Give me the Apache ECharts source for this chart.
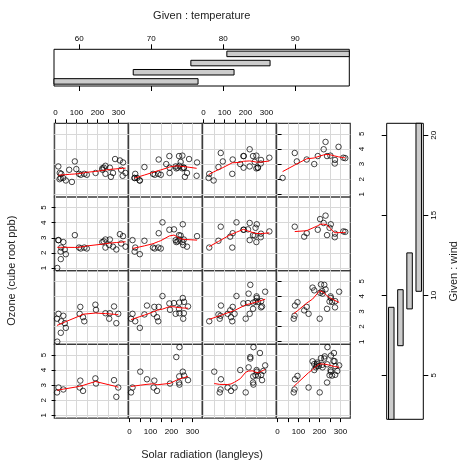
<!DOCTYPE html>
<html><head><meta charset="utf-8">
<script src="https://cdn.jsdelivr.net/npm/echarts@6/dist/echarts.min.js"></script>
<style>html,body{margin:0;padding:0;background:#fff}#c{width:460px;height:465px}</style>
</head><body><div id="c"></div><script>
// complete cases: Ozone (ppb), Solar.R (langleys), Wind (mph), Temp (F)
var ozone = [41,36,12,18,23,19,8,16,11,14, 18,14,34,6,30,11,1,11,4,32, 23,45,115,37,29,71,39,23,21,37,
  20,12,13,135,49,32,64,40,77,97, 97,85,10,27,7,48,35,61,79,63, 16,80,108,20,52,82,50,64,59,39,
  9,16,122,89,110,44,28,65,22,59, 23,31,44,21,9,45,168,73,76,118, 84,85,96,78,73,91,47,32,20,23,
  21,24,44,21,28,9,13,46,18,13, 24,16,13,23,36,7,14,30,14,18, 20];
var solar = [190,118,149,313,299,99,19,256,290,274, 65,334,307,78,322,44,8,320,25,92, 13,252,223,279,127,291,323,148,191,284,
  37,120,137,269,248,236,175,314,276,267, 272,175,264,175,48,260,274,285,187,220, 7,294,223,81,82,213,275,253,254,83,
  24,77,255,229,207,192,273,157,71,51, 115,244,190,259,36,212,238,215,203,225, 237,188,167,197,183,189,95,92,252,220,
  230,259,236,259,238,24,112,237,224,27, 238,201,238,14,139,49,20,193,191,131, 223];
var wind = [7.4,8.0,12.6,11.5,8.6,13.8,20.1,9.7,9.2,10.9, 13.2,11.5,12.0,18.4,11.5,9.7,9.7,16.6,9.7,12.0, 12.0,14.9,5.7,7.4,9.7,13.8,11.5,8.0,14.9,20.7,
  9.2,11.5,10.3,4.1,9.2,9.2,4.6,10.9,5.1,6.3, 5.7,7.4,14.3,14.9,14.3,6.9,10.3,6.3,5.1,11.5, 6.9,8.6,8.0,8.6,12.0,7.4,7.4,7.4,9.2,6.9,
  13.8,7.4,4.0,10.3,8.0,11.5,11.5,9.7,10.3,6.3, 7.4,10.9,10.3,15.5,14.3,9.7,3.4,8.0,9.7,2.3, 6.3,6.3,6.9,5.1,2.8,4.6,7.4,15.5,10.9,10.3,
  10.9,9.7,14.9,15.5,6.3,10.9,11.5,6.9,13.8,10.3, 10.3,8.0,12.6,9.2,10.3,10.3,16.6,6.9,14.3,8.0, 11.5];
var temp = [67,72,74,62,65,59,61,69,66,68, 58,64,66,57,68,62,59,73,61,61, 67,81,79,76,82,90,87,82,77,72,
  65,73,76,84,85,81,83,83,88,92, 92,89,73,81,80,81,82,84,87,85, 74,86,85,82,86,88,86,83,81,81,
  81,82,89,90,90,86,82,80,77,79, 76,78,78,77,72,79,81,86,97,94, 96,94,91,92,93,93,87,84,80,78,
  75,73,81,76,77,71,71,78,67,76, 68,82,64,71,81,69,63,70,75,76, 68];

// conditioning intervals (given panels)
var tempLo = [56.5, 67.5, 75.5, 80.5];
var tempHi = [76.5, 81.5, 86.5, 97.5];
var windLo = [2.25, 6.85, 9.15, 10.25];
var windHi = [9.25, 10.35, 12.65, 20.75];

// ticks
var solarTicks = [0, 50, 100, 150, 200, 250, 300];
var solarLabels = [0, 100, 200, 300];
var ozoneTicks = [1, 2, 3, 4, 5];
var tempTicks = [60, 70, 80, 90];
var windTicks = [5, 10, 15, 20];

// R lowess (clowess port)
function lowest(x, y, n, xs, nleft, nright, w, userw, rw) {
  var range = x[n] - x[1];
  var h = Math.max(xs - x[nleft], x[nright] - xs);
  var h9 = 0.999 * h, h1 = 0.001 * h;
  var a = 0, j = nleft;
  while (j <= n) {
    w[j] = 0;
    var r = Math.abs(x[j] - xs);
    if (r <= h9) {
      if (r <= h1) w[j] = 1;
      else { var q = r / h; q = 1 - q * q * q; w[j] = q * q * q; }
      if (userw) w[j] *= rw[j];
      a += w[j];
    } else if (x[j] > xs) break;
    j++;
  }
  var nrt = j - 1;
  if (a <= 0) return null;
  for (j = nleft; j <= nrt; j++) w[j] /= a;
  if (h > 0) {
    a = 0;
    for (j = nleft; j <= nrt; j++) a += w[j] * x[j];
    var b = xs - a, c = 0;
    for (j = nleft; j <= nrt; j++) c += w[j] * (x[j] - a) * (x[j] - a);
    if (Math.sqrt(c) > 0.001 * range) {
      b /= c;
      for (j = nleft; j <= nrt; j++) w[j] *= (b * (x[j] - a) + 1);
    }
  }
  var ys = 0;
  for (j = nleft; j <= nrt; j++) ys += w[j] * y[j];
  return ys;
}
function lowess(px, py, f, nsteps) {
  var n = px.length;
  var ord = px.map(function (v, i) { return i; }).sort(function (a, b) { return px[a] - px[b] || a - b; });
  var x = [0], y = [0];
  ord.forEach(function (i) { x.push(px[i]); y.push(py[i]); });
  var delta = 0.01 * (x[n] - x[1]);
  var ys = [], rw = [], res = [], w = [];
  var ns = Math.max(2, Math.min(n, Math.floor(f * n + 1e-7)));
  var iter = 1, i;
  while (iter <= nsteps + 1) {
    var nleft = 1, nright = ns, last = 0;
    i = 1;
    for (;;) {
      if (nright < n) {
        var d1 = x[i] - x[nleft], d2 = x[nright + 1] - x[i];
        if (d1 > d2) { nleft++; nright++; continue; }
      }
      var v = lowest(x, y, n, x[i], nleft, nright, w, iter > 1, rw);
      ys[i] = (v === null) ? y[i] : v;
      if (last < i - 1) {
        var denom = x[i] - x[last];
        for (var j = last + 1; j < i; j++) {
          var alpha = (x[j] - x[last]) / denom;
          ys[j] = alpha * ys[i] + (1 - alpha) * ys[last];
        }
      }
      last = i;
      var cut = x[last] + delta;
      for (i = last + 1; i <= n; i++) {
        if (x[i] > cut) break;
        if (x[i] === x[last]) { ys[i] = ys[last]; last = i; }
      }
      i = Math.max(last + 1, i - 1);
      if (last >= n) break;
    }
    var sc = 0;
    for (i = 1; i <= n; i++) { res[i] = y[i] - ys[i]; sc += Math.abs(res[i]); }
    sc /= n;
    if (iter > nsteps) break;
    var srt = [];
    for (i = 1; i <= n; i++) srt.push(Math.abs(res[i]));
    srt.sort(function (a, b) { return a - b; });
    var m1 = Math.floor(n / 2), cmad;
    if (n % 2 === 0) { var m2 = n - m1 - 1; cmad = 3 * (srt[m1] + srt[m2]); }
    else cmad = 6 * srt[m1];
    if (cmad < 1e-7 * sc) break;
    var c9 = 0.999 * cmad, c1 = 0.001 * cmad;
    for (i = 1; i <= n; i++) {
      var r = Math.abs(res[i]);
      if (r <= c1) rw[i] = 1;
      else if (r <= c9) { var q = r / cmad; q = 1 - q * q; rw[i] = q * q; }
      else rw[i] = 0;
    }
    iter++;
  }
  var out = [];
  for (i = 1; i <= n; i++) out.push([x[i], ys[i]]);
  return out;
}

var FONT = 'Liberation Sans, Arial, Helvetica, sans-serif';
var L0 = 54.3, T0 = 123.3, PW = 74, PH = 73.7;
var xMin = -6.08, xMax = 347.08, yMin = 0.8193, yMax = 5.6985;
var BORDER = '#3a3a3a', GRIDC = '#d8d8d8';
var grids = [], xAxes = [], yAxes = [], series = [];

for (var r = 0; r < 4; r++) {
  for (var c = 0; c < 4; c++) {
    var gi = grids.length;
    var k = 3 - r; // wind interval index (bottom row = lowest wind)
    grids.push({ left: L0 + c * PW, top: T0 + r * PH, width: PW, height: PH, show: true,
      borderColor: BORDER, borderWidth: 1.2, backgroundColor: 'rgba(0,0,0,0)' });
    var xTop = (r === 0 && c % 2 === 0), xBot = (r === 3 && c % 2 === 1);
    var yLeft = (c === 0 && r % 2 === 1), yRight = (c === 3 && r % 2 === 0);
    xAxes.push({ type: 'value', gridIndex: gi, min: xMin, max: xMax, position: xTop ? 'top' : 'bottom',
      axisLine: { show: false },
      axisTick: { show: xTop || xBot, customValues: solarTicks, length: 4, lineStyle: { color: '#000', width: 1 } },
      axisLabel: { show: xTop || xBot, customValues: solarLabels, fontSize: 8, fontFamily: FONT, color: '#000', margin: xTop ? 7 : 10 },
      splitLine: { show: true, lineStyle: { color: GRIDC, width: 1 } } });
    yAxes.push({ type: 'value', gridIndex: gi, min: yMin, max: yMax, position: yRight ? 'right' : 'left',
      axisLine: { show: false },
      axisTick: { show: yLeft || yRight, customValues: ozoneTicks, length: 4, lineStyle: { color: '#000', width: 1 } },
      axisLabel: { show: yLeft || yRight, customValues: ozoneTicks, rotate: 90, fontSize: 8, fontFamily: FONT, color: '#000', margin: 7 },
      splitLine: { show: true, lineStyle: { color: GRIDC, width: 1 } } });
    var px = [], py = [], pts = [];
    for (var i = 0; i < ozone.length; i++) {
      if (temp[i] >= tempLo[c] && temp[i] <= tempHi[c] && wind[i] >= windLo[k] && wind[i] <= windHi[k]) {
        var yy = Math.cbrt(ozone[i]);
        px.push(solar[i]); py.push(yy); pts.push([solar[i], yy]);
      }
    }
    series.push({ type: 'scatter', xAxisIndex: gi, yAxisIndex: gi, data: pts, clip: false,
      symbol: 'circle', symbolSize: 5.5, silent: true, z: 3,
      itemStyle: { color: 'rgba(0,0,0,0)', borderColor: '#000', borderWidth: 0.9 } });
    series.push({ type: 'line', xAxisIndex: gi, yAxisIndex: gi, data: lowess(px, py, 2 / 3, 3),
      showSymbol: false, silent: true, z: 4, clip: false,
      lineStyle: { color: '#ff0000', width: 1 } });
  }
}

// temperature given panel
var tg = grids.length;
grids.push({ left: 54, top: 49.3, width: 295.3, height: 36.7, show: true, borderColor: '#000', borderWidth: 1, backgroundColor: 'rgba(0,0,0,0)' });
var txTop = xAxes.length;
xAxes.push({ type: 'value', gridIndex: tg, min: tempLo[0], max: tempHi[3], position: 'top',
  axisLine: { show: false }, splitLine: { show: false },
  axisTick: { show: true, customValues: tempTicks, length: 5, lineStyle: { color: '#000' } },
  axisLabel: { show: true, customValues: tempTicks, fontSize: 8, fontFamily: FONT, color: '#000', margin: 7 } });
xAxes.push({ type: 'value', gridIndex: tg, min: tempLo[0], max: tempHi[3], position: 'bottom',
  axisLine: { show: false }, splitLine: { show: false },
  axisTick: { show: true, customValues: tempTicks, length: 5, lineStyle: { color: '#000' } },
  axisLabel: { show: false } });
var tyIdx = yAxes.length;
yAxes.push({ type: 'value', gridIndex: tg, min: 0.5, max: 4.5, show: false });
var tempBars = tempLo.map(function (v, j) { return [v, tempHi[j], j + 1]; });
series.push({ type: 'custom', xAxisIndex: txTop, yAxisIndex: tyIdx, data: tempBars, silent: true,
  renderItem: function (params, api) {
    var p0 = api.coord([api.value(0), api.value(2) - 0.3]);
    var p1 = api.coord([api.value(1), api.value(2) + 0.3]);
    return { type: 'rect', shape: { x: p0[0], y: p1[1], width: p1[0] - p0[0], height: p0[1] - p1[1] },
      style: { fill: '#cccccc', stroke: '#000', lineWidth: 1 } };
  } });

// wind given panel
var wg = grids.length;
grids.push({ left: 386.7, top: 123.3, width: 36.6, height: 296, show: true, borderColor: '#000', borderWidth: 1, backgroundColor: 'rgba(0,0,0,0)' });
var wxIdx = xAxes.length;
xAxes.push({ type: 'value', gridIndex: wg, min: 0.5, max: 4.5, show: false });
var wyRight = yAxes.length;
yAxes.push({ type: 'value', gridIndex: wg, min: windLo[0], max: windHi[3], position: 'right',
  axisLine: { show: false }, splitLine: { show: false },
  axisTick: { show: true, customValues: windTicks, length: 5, lineStyle: { color: '#000' } },
  axisLabel: { show: true, customValues: windTicks, rotate: 90, fontSize: 8, fontFamily: FONT, color: '#000', margin: 6 } });
yAxes.push({ type: 'value', gridIndex: wg, min: windLo[0], max: windHi[3], position: 'left',
  axisLine: { show: false }, splitLine: { show: false },
  axisTick: { show: true, customValues: windTicks, length: 5, lineStyle: { color: '#000' } },
  axisLabel: { show: false } });
var windBars = windLo.map(function (v, j) { return [v, windHi[j], j + 1]; });
series.push({ type: 'custom', xAxisIndex: wxIdx, yAxisIndex: wyRight, data: windBars, silent: true,
  renderItem: function (params, api) {
    var p0 = api.coord([api.value(2) - 0.3, api.value(0)]);
    var p1 = api.coord([api.value(2) + 0.3, api.value(1)]);
    return { type: 'rect', shape: { x: p0[0], y: p1[1], width: p1[0] - p0[0], height: p0[1] - p1[1] },
      style: { fill: '#cccccc', stroke: '#000', lineWidth: 1 } };
  } });

var chart = echarts.init(document.getElementById('c'), null, { renderer: 'canvas' });
chart.setOption({
  animation: false,
  backgroundColor: '#ffffff',
  grid: grids, xAxis: xAxes, yAxis: yAxes, series: series,
  graphic: [
    { type: 'text', x: 201.7, y: 16, style: { text: 'Given : temperature', font: '11px ' + FONT, fill: '#222', textAlign: 'center', textVerticalAlign: 'middle' } },
    { type: 'text', x: 202, y: 455, style: { text: 'Solar radiation (langleys)', font: '11px ' + FONT, fill: '#222', textAlign: 'center', textVerticalAlign: 'middle' } },
    { type: 'text', x: 12, y: 270.7, rotation: Math.PI / 2, style: { text: 'Ozone (cube root ppb)', font: '11px ' + FONT, fill: '#222', textAlign: 'center', textVerticalAlign: 'middle' } },
    { type: 'text', x: 453.5, y: 271.3, rotation: Math.PI / 2, style: { text: 'Given : wind', font: '11px ' + FONT, fill: '#222', textAlign: 'center', textVerticalAlign: 'middle' } }
  ]
});
</script></body></html>
